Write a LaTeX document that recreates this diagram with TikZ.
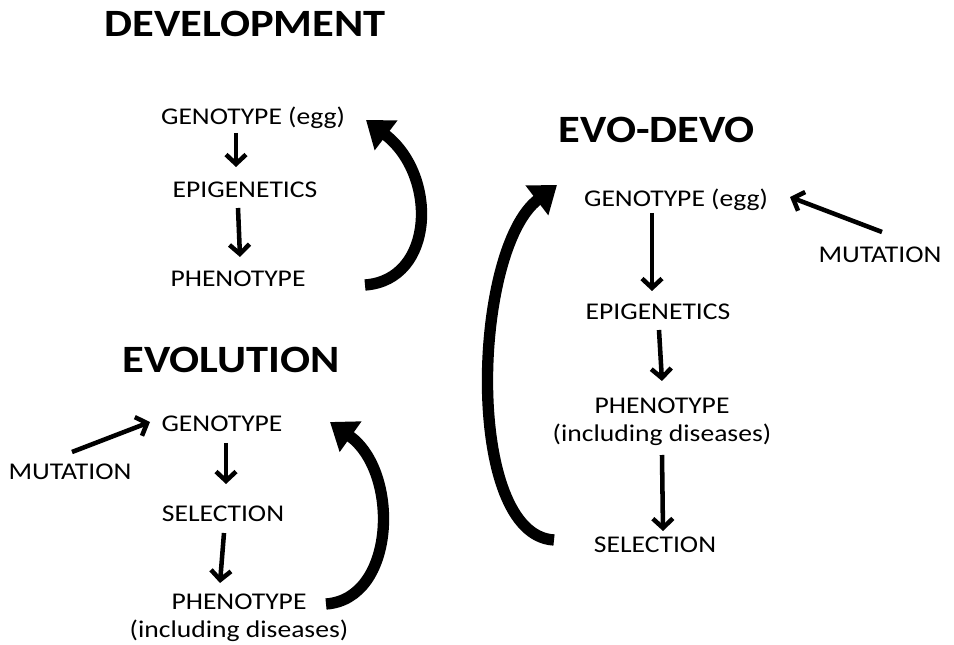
\documentclass[tikz,border=0pt]{standalone}
\usepackage{fontspec}
\setmainfont[FakeStretch=1.15]{Carlito}
\usetikzlibrary{arrows.meta, calc}
\tikzset{
    % Text styles
    stageText/.style={
        inner sep=0pt,
        align=center,
        font=\fontsize{18}{21}\selectfont
    },
    titleText/.style={
        inner sep=0pt,
        font=\bfseries\fontsize{29}{32}\selectfont
    },
    % Arrow styles
    stepArrow/.style={-{Straight Barb[length=7pt, width=15pt]}, line width=3.4pt},
    cycleArrow/.style={-{Triangle[length=19pt, width=27pt]}, line width=8.5pt}
}

\begin{document}
\begin{tikzpicture}[x=0.75pt, y=-0.75pt]

    \useasboundingbox (0,0) rectangle (954,645);

    % --- DEVELOPMENT (top left) ---
    \node (devTitle) [titleText] at (245,24) {DEVELOPMENT};
    \node (devGeno)  [stageText] at (253,118) {GENOTYPE (egg)};
    \node (devEpi)   [stageText] at (245,190) {EPIGENETICS};
    \node (devPheno) [stageText] at (238,279) {PHENOTYPE};

    \draw [stepArrow] ($(devGeno)+(-17,15)$) -- ($(devGeno)+(-17,49)$);
    \draw [stepArrow] ($(devEpi)+(-7,18)$) -- ($(devEpi)+(-5,67)$);
    \draw [cycleArrow] ($(devPheno)+(127,6)$) .. controls +(70,-5) and +(72,55) .. ($(devGeno)+(113,2)$);

    % --- EVOLUTION (bottom left) ---
    \node (evoTitle) [titleText] at (231,360) {EVOLUTION};
    \node (evoGeno)  [stageText] at (222,424) {GENOTYPE};
    \node (evoMut)   [stageText] at (70,472) {MUTATION};
    \node (evoSel)   [stageText] at (223,514) {SELECTION};
    \node (evoPheno) [stageText] at (239,618) {PHENOTYPE\\(including diseases)};

    \draw [stepArrow] ($(evoMut)+(2,-20)$) -- ($(evoGeno)+(-72,-2)$);
    \draw [stepArrow] ($(evoGeno)+(4,19)$) -- ($(evoGeno)+(4,60)$);
    \draw [stepArrow] ($(evoSel)+(1,19)$) -- ($(evoSel)+(-3,69)$);
    \draw [cycleArrow] ($(evoPheno)+(87,-14)$) .. controls +(70,-5) and +(70,50) .. ($(evoGeno)+(108,-2)$);

    % --- EVO-DEVO (right) ---
    \node (edTitle) [titleText] at (657,130) {EVO-DEVO};
    \node (edGeno)  [stageText] at (676,200) {GENOTYPE (egg)};
    \node (edMut)   [stageText] at (880,255) {MUTATION};
    \node (edEpi)   [stageText] at (658,312) {EPIGENETICS};
    \node (edPheno) [stageText] at (662,422) {PHENOTYPE\\(including diseases)};
    \node (edSel)   [stageText] at (655,545) {SELECTION};

    \draw [stepArrow] ($(edMut)+(2,-23)$) -- ($(edGeno)+(114,-3)$);
    \draw [stepArrow] ($(edGeno)+(-24,13)$) -- ($(edGeno)+(-24,91)$);
    \draw [stepArrow] ($(edEpi)+(1,18)$) -- ($(edEpi)+(4,69)$);
    \draw [stepArrow] ($(edPheno)+(0,33)$) -- ($(edPheno)+(1,109)$);
    \draw [cycleArrow] ($(edSel)+(-101,-5)$) .. controls +(-90,-5) and +(-85,65) .. ($(edGeno)+(-119,-15)$);

\end{tikzpicture}
\end{document}
